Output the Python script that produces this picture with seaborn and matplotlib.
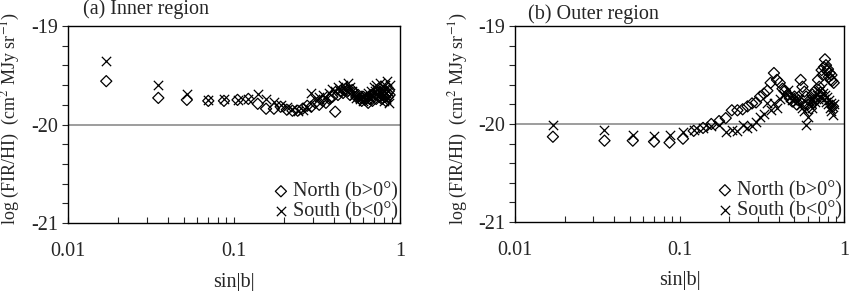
import matplotlib
matplotlib.use('Agg')
import matplotlib.pyplot as plt
import matplotlib.ticker as mticker
import numpy as np
import seaborn as sns

# sin|b| for b = 1..60 deg
sin_b = [0.017, 0.035, 0.052, 0.070, 0.087, 0.105, 0.122, 0.139, 0.156, 0.174,
         0.191, 0.208, 0.225, 0.242, 0.259, 0.276, 0.292, 0.309, 0.326, 0.342,
         0.358, 0.375, 0.391, 0.407, 0.423, 0.438, 0.454, 0.469, 0.485, 0.500,
         0.515, 0.530, 0.545, 0.559, 0.574, 0.588, 0.602, 0.616, 0.629, 0.643,
         0.656, 0.669, 0.682, 0.695, 0.707, 0.719, 0.731, 0.743, 0.755, 0.766,
         0.777, 0.788, 0.799, 0.809, 0.819, 0.829, 0.839, 0.848, 0.857, 0.866]

# (a) inner region
inner_north = [-19.56, -19.73, -19.75, -19.76, -19.76, -19.75, -19.74, -19.79, -19.84, -19.84,
               -19.82, -19.85, -19.86, -19.86, -19.84, -19.81, -19.82, -19.78, -19.80, -19.76,
               -19.78, -19.74, -19.72, -19.87, -19.70, -19.66, -19.68, -19.64, -19.66, -19.70,
               -19.65, -19.68, -19.72, -19.70, -19.74, -19.76, -19.72, -19.75, -19.73, -19.78,
               -19.74, -19.70, -19.76, -19.72, -19.68, -19.74, -19.70, -19.66, -19.72, -19.68,
               -19.74, -19.70, -19.66, -19.72, -19.76, -19.70, -19.68, -19.72, -19.66, -19.70]
inner_south = [-19.36, -19.60, -19.69, -19.75, -19.74, -19.75, -19.74, -19.69, -19.74, -19.77,
               -19.80, -19.82, -19.84, -19.86, -19.85, -19.82, -19.68, -19.74, -19.72, -19.70,
               -19.74, -19.68, -19.64, -19.66, -19.62, -19.66, -19.60, -19.64, -19.58, -19.62,
               -19.66, -19.70, -19.73, -19.70, -19.74, -19.72, -19.76, -19.70, -19.74, -19.68,
               -19.72, -19.66, -19.70, -19.62, -19.66, -19.60, -19.64, -19.70, -19.58, -19.66,
               -19.72, -19.62, -19.76, -19.60, -19.68, -19.74, -19.56, -19.66, -19.78, -19.60]

# (b) outer region
outer_north = [-20.13, -20.17, -20.17, -20.18, -20.19, -20.15, -20.07, -20.04, -20.00, -19.97,
               -19.94, -19.86, -19.86, -19.85, -19.82, -19.79, -19.78, -19.72, -19.69, -19.66,
               -19.58, -19.48, -19.55, -19.58, -19.64, -19.66, -19.70, -19.74, -19.77, -19.72,
               -19.80, -19.76, -19.55, -19.62, -19.67, -19.72, -19.80, -19.76, -19.84, -19.70,
               -19.78, -19.66, -19.74, -19.55, -19.62, -19.68, -19.45, -19.50, -19.42, -19.34,
               -19.40, -19.46, -19.44, -19.52, -19.48, -19.55, -19.50, -19.56, -19.82, -19.58]
outer_south = [-20.01, -20.06, -20.11, -20.12, -20.11, -20.08, -20.06, -20.04, -20.02, -20.01,
               -20.08, -20.06, -20.07, -20.01, -20.04, -20.02, -19.98, -19.93, -19.90, -19.79,
               -19.86, -19.79, -19.84, -19.74, -19.70, -19.68, -19.65, -19.72, -19.76, -19.70,
               -19.78, -19.74, -19.81, -19.84, -19.87, -20.01, -19.93, -19.80, -19.76, -19.84,
               -19.72, -19.78, -19.70, -19.74, -19.66, -19.72, -19.63, -19.68, -19.74, -19.70,
               -19.78, -19.72, -19.80, -19.76, -19.84, -19.79, -19.87, -19.82, -19.91, -19.80]

titles = ['(a) Inner region', '(b) Outer region']
labels = ['North (b>0°)', 'South (b<0°)']

sns.set_style('white')
plt.rcParams['font.family'] = ['Liberation Serif', 'DejaVu Serif']
plt.rcParams['mathtext.fontset'] = 'stix'
plt.rcParams['axes.unicode_minus'] = False
fs = 14.5

fig = plt.figure(figsize=(8.49, 2.91), dpi=100)
ax1 = fig.add_axes([68 / 849, 1 - 223 / 291, 332 / 849, 197 / 291])
ax2 = fig.add_axes([515 / 849, 1 - 222 / 291, 329 / 849, 196 / 291])

panels = [(ax1, inner_north, inner_south), (ax2, outer_north, outer_south)]
for i, (ax, north, south) in enumerate(panels):
    ax.axhline(-20, color='#8c8c8c', lw=1.2, zorder=1)
    sns.scatterplot(x=sin_b, y=north, ax=ax, marker='D', s=32,
                    facecolor='none', edgecolor='black', linewidth=0.9,
                    label=labels[0], zorder=3)
    sns.scatterplot(x=sin_b, y=south, ax=ax, marker='x', s=45,
                    color='black', linewidth=0.9, label=labels[1], zorder=3)

    ax.set_xscale('log')
    ax.set_xlim(0.01, 1)
    ax.set_ylim(-21, -19)
    ax.set_xticks([0.01, 0.1, 1])
    ax.xaxis.set_major_formatter(mticker.FuncFormatter(lambda v, p: '%g' % v))
    ax.xaxis.set_minor_locator(mticker.LogLocator(base=10, subs=np.arange(2, 10)))
    ax.xaxis.set_minor_formatter(mticker.NullFormatter())
    ax.set_yticks([-21, -20, -19])
    ax.yaxis.set_minor_locator(mticker.MultipleLocator(0.2))
    ax.tick_params(axis='x', which='both', direction='in', length=4, width=0.8,
                   pad=14, labelsize=fs, bottom=True)
    ax.tick_params(axis='y', which='both', direction='out', length=4, width=0.8,
                   pad=3, labelsize=fs, left=True)

    for sp in ax.spines.values():
        sp.set_color('black')
        sp.set_linewidth(1.0)

    ax.set_xlabel('sin|b|', fontsize=fs, va='center')
    ax.xaxis.set_label_coords(0.5, (223 - 282) / 197)
    ax.set_ylabel('log (FIR/HI)  (cm$^2$ MJy sr$^{-1}$)', fontsize=13)

    leg = ax.legend(loc='lower right', frameon=False, fontsize=fs,
                    handletextpad=0.1, labelspacing=0.0, borderaxespad=0.0,
                    handlelength=1.0, borderpad=0.1)

ax1.yaxis.set_label_coords(-0.139, 0.53)
ax2.yaxis.set_label_coords(-0.136, 0.53)
ax1.text(0.045, 1.086, titles[0], transform=ax1.transAxes, va='center', ha='left', fontsize=fs)
ax2.text(0.039, 1.061, titles[1], transform=ax2.transAxes, va='center', ha='left', fontsize=fs)

fig.savefig('out.png', dpi=100)
